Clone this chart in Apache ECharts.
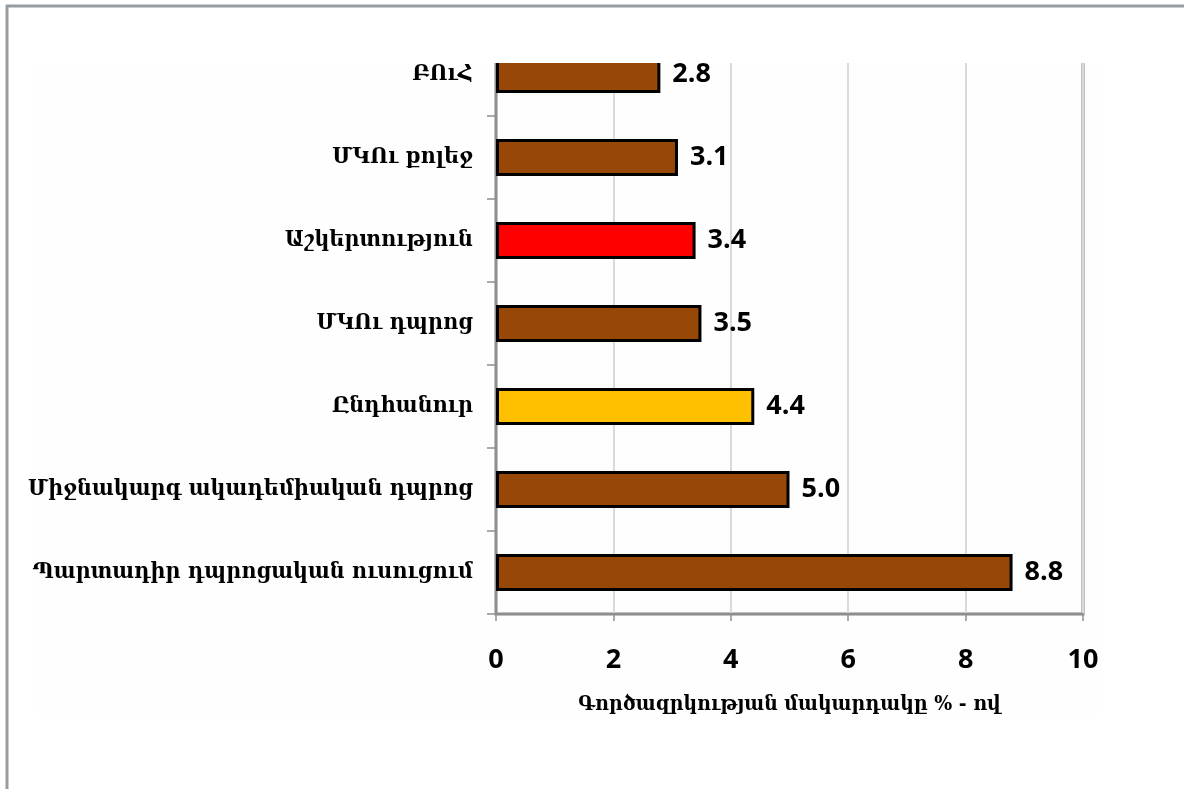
<!DOCTYPE html>
<html>
<head>
<meta charset="utf-8">
<script src="https://cdn.jsdelivr.net/npm/echarts@6/dist/echarts.min.js"></script>
<style>
html,body{margin:0;padding:0;background:#fff;}
#c{width:1184px;height:789px;}
</style>
</head>
<body>
<div id="c"></div>
<script>
var categories = ['ԲՈւՀ', 'ՄԿՈւ քոլեջ', 'Աշկերտություն', 'ՄԿՈւ դպրոց', 'Ընդհանուր', 'Միջնակարգ ակադեմիական դպրոց', 'Պարտադիր դպրոցական ուսուցում'];
var values = [2.8, 3.1, 3.4, 3.5, 4.4, 5.0, 8.8];
var barColors = ['#974706', '#974706', '#ff0000', '#974706', '#ffc000', '#974706', '#974706'];
var axisTitle = 'Գործազրկության մակարդակը % - ով';

var chart = echarts.init(document.getElementById('c'));
var data = values.map(function (v, i) {
  return { value: v, itemStyle: { color: barColors[i] } };
});
chart.setOption({
  animation: false,
  backgroundColor: '#ffffff',
  grid: {
    left: 496, right: 101, top: 33, bottom: 175,
    show: true, borderColor: '#858585', borderWidth: 3, backgroundColor: 'transparent'
  },
  xAxis: {
    type: 'value', min: 0, max: 10, interval: 2,
    axisLine: { show: true, lineStyle: { color: '#8e8e8e', width: 2 } },
    axisTick: { show: true, length: 7, lineStyle: { color: '#8e8e8e', width: 1.5 } },
    splitLine: { show: true, lineStyle: { color: '#d9d9d9', width: 2 } },
    axisLabel: { fontFamily: 'Open Sans', fontWeight: 'bold', fontSize: 27, color: '#000', margin: 33 },
    name: axisTitle, nameLocation: 'middle', nameGap: 80,
    nameTextStyle: { fontFamily: 'DejaVu Serif Condensed', fontWeight: 'bold', fontSize: 21, color: '#000' }
  },
  yAxis: {
    type: 'category', data: categories, inverse: true,
    axisLine: { show: true, lineStyle: { color: '#8e8e8e', width: 2 } },
    axisTick: { show: true, length: 9, lineStyle: { color: '#8e8e8e', width: 1.5 } },
    axisLabel: { fontFamily: 'DejaVu Serif Condensed', fontWeight: 'bold', fontSize: 23, color: '#000', margin: 23 }
  },
  series: [{
    type: 'bar', data: data, barWidth: 37,
    itemStyle: { borderColor: '#000', borderWidth: 3 },
    label: {
      show: true, position: 'right', distance: 12,
      fontFamily: 'Open Sans', fontWeight: 'bold', fontSize: 27, color: '#000',
      formatter: function (p) { return p.value.toFixed(1); }
    }
  }],
  graphic: [
    { type: 'rect', z: -10, shape: { x: 35, y: 63, width: 1067, height: 651 }, style: { fill: '#fefefe' } },
    { type: 'rect', z: 100, shape: { x: 478, y: 12, width: 640, height: 51 }, style: { fill: '#ffffff' } },
    { type: 'line', z: 101, shape: { x1: 6, y1: 6, x2: 1184, y2: 6 }, style: { stroke: '#979ca1', lineWidth: 3 } },
    { type: 'line', z: 101, shape: { x1: 7, y1: 5, x2: 7, y2: 789 }, style: { stroke: '#979ca1', lineWidth: 3 } }
  ]
});
</script>
</body>
</html>
